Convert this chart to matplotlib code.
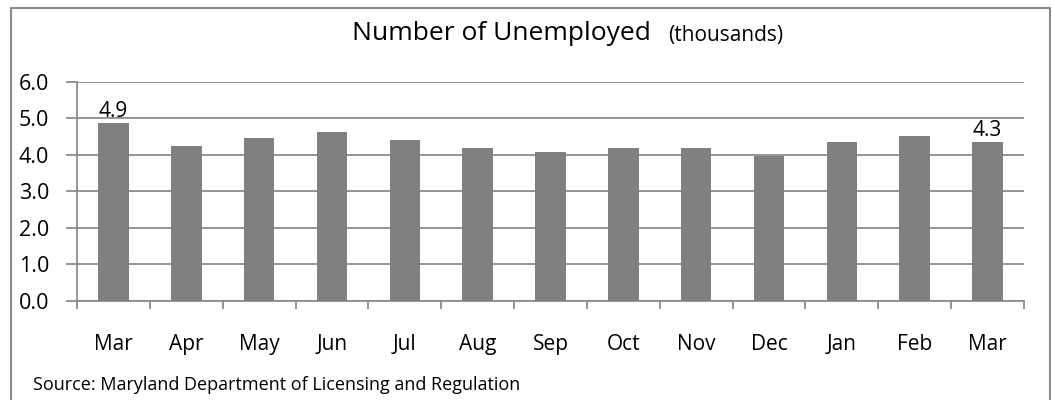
import matplotlib
matplotlib.use("Agg")
import matplotlib.pyplot as plt
from matplotlib.patches import Rectangle
from matplotlib.ticker import FixedLocator
import numpy as np

months = ["Mar", "Apr", "May", "Jun", "Jul", "Aug", "Sep", "Oct", "Nov", "Dec", "Jan", "Feb", "Mar"]
unemployed = [4.87, 4.24, 4.46, 4.64, 4.41, 4.19, 4.08, 4.19, 4.19, 3.97, 4.35, 4.52, 4.35]
label_text = ["4.9", "", "", "", "", "", "", "", "", "", "", "", "4.3"]
y_ticks = [0.0, 1.0, 2.0, 3.0, 4.0, 5.0, 6.0]

plt.rcParams['font.family'] = ['Open Sans', 'DejaVu Sans']

W, H = 1052, 400
fig = plt.figure(figsize=(W / 100, H / 100), dpi=100)
fig.patch.set_facecolor("white")

# outer frame
fig.patches.append(Rectangle((11 / W, -0.01), (1050 - 11) / W, (H - 8) / H + 0.01,
                             transform=fig.transFigure, fill=False,
                             edgecolor="#8c8c8c", linewidth=1.5))

left, right, top, bottom = 77 / W, 1024 / W, 82 / H, 300.7 / H
ax = fig.add_axes([left, 1 - bottom, right - left, bottom - top])

grid_c = "#8c8c8c"
x = np.arange(len(months))
ax.bar(x, unemployed, width=0.42, color="#808080", zorder=3)
ax.set_xlim(-0.5, len(months) - 0.5)
ax.set_ylim(0, 6)

ax.set_yticks(y_ticks)
ax.set_yticklabels([f"{v:.1f}" for v in y_ticks], fontsize=15.5)
ax.yaxis.grid(True, color=grid_c, linewidth=1.3, zorder=0)
ax.tick_params(axis="y", length=8, width=1.3, color=grid_c, pad=12)

ax.set_xticks(x)
ax.set_xticklabels(months, fontsize=15)
ax.tick_params(axis="x", which="major", length=0, pad=24)
ax.xaxis.set_minor_locator(FixedLocator(np.arange(-0.5, len(months), 1.0)))
ax.tick_params(axis="x", which="minor", length=6, width=1.3, color=grid_c)

for s in ["top", "right"]:
    ax.spines[s].set_visible(False)
for s in ["left", "bottom"]:
    ax.spines[s].set_color(grid_c)
    ax.spines[s].set_linewidth(1.3)

for xi, v, t in zip(x, unemployed, label_text):
    if t:
        ax.annotate(t, (xi, v), xytext=(0, 1), textcoords="offset points",
                    ha="center", va="bottom", fontsize=15)

fig.text(352 / W, 1 - 33 / H, "Number of Unemployed", fontsize=19, ha="left", va="center")
fig.text(668 / W, 1 - 35 / H, "(thousands)", fontsize=15, ha="left", va="center")
fig.text(33 / W, 1 - 385 / H, "Source: Maryland Department of Licensing and Regulation",
         fontsize=13, ha="left", va="center")

fig.savefig("out.png", dpi=100, facecolor="white")
